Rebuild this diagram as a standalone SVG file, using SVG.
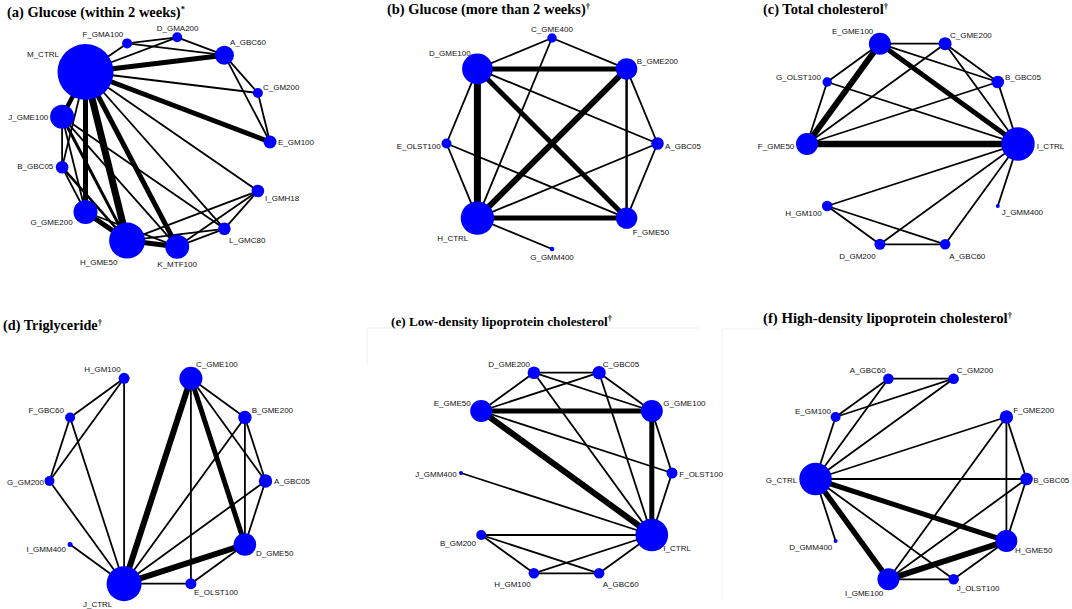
<svg xmlns="http://www.w3.org/2000/svg" width="1072" height="609" viewBox="0 0 1072 609">
<style>
.bg{fill:#ffffff}
.title{font-family:"Liberation Serif","Times New Roman",serif;font-weight:bold;font-size:14.5px;fill:#000}
.sup{font-size:8.5px}
.lb{font-family:"Liberation Sans",Arial,sans-serif;font-size:8px;fill:#111}
.m{text-anchor:middle}
.n{fill:#0000ff}
.c line{stroke:#000;stroke-width:1.8;stroke-linecap:butt}
.faint{stroke:#efefef;stroke-width:1;fill:none}
</style>
<rect class="bg" x="0" y="0" width="1072" height="609"/>
<g id="frames">
<polyline class="faint" points="367,365 367,328 700,328"/>
<polyline class="faint" points="783,329 722,329 722,600"/>
</g>
<g id="titles">
<text class="title" x="7" y="16.5" style="font-size:14.3px" textLength="178" lengthAdjust="spacingAndGlyphs">(a) Glucose (within 2 weeks)<tspan class="sup" dy="-5">*</tspan></text>
<text class="title" x="387" y="14" textLength="203" lengthAdjust="spacingAndGlyphs">(b) Glucose (more than 2 weeks)<tspan class="sup" dy="-5">†</tspan></text>
<text class="title" x="763" y="13.5" style="font-size:14.2px" textLength="125" lengthAdjust="spacingAndGlyphs">(c) Total cholesterol<tspan class="sup" dy="-5">†</tspan></text>
<text class="title" x="3" y="329.5" style="font-size:14px" textLength="99" lengthAdjust="spacingAndGlyphs">(d) Triglyceride<tspan class="sup" dy="-5">†</tspan></text>
<text class="title" x="391" y="326" style="font-size:13.2px" textLength="221" lengthAdjust="spacingAndGlyphs">(e) Low-density lipoprotein cholesterol<tspan class="sup" dy="-5">†</tspan></text>
<text class="title" x="763" y="322.5" style="font-size:14.7px" textLength="249" lengthAdjust="spacingAndGlyphs">(f) High-density lipoprotein cholesterol<tspan class="sup" dy="-5">†</tspan></text>
</g>

<g id="connectors-a" class="c">
<line x1="85.5" y1="72" x2="127.1" y2="43.4"/>
<line x1="85.5" y1="72" x2="177.2" y2="37.3"/>
<line x1="85.5" y1="72" x2="224.4" y2="55.2" style="stroke-width:5"/>
<line x1="85.5" y1="72" x2="257.9" y2="93"/>
<line x1="85.5" y1="72" x2="270" y2="142" style="stroke-width:5"/>
<line x1="85.5" y1="72" x2="257.9" y2="191"/>
<line x1="85.5" y1="72" x2="224.4" y2="228.8"/>
<line x1="85.5" y1="72" x2="177.2" y2="246.7" style="stroke-width:5"/>
<line x1="85.5" y1="72" x2="127.1" y2="240.6" style="stroke-width:7"/>
<line x1="85.5" y1="72" x2="85.5" y2="212" style="stroke-width:5"/>
<line x1="85.5" y1="72" x2="62.1" y2="167.2"/>
<line x1="85.5" y1="72" x2="62.1" y2="116.8" style="stroke-width:4.5"/>
<line x1="127.1" y1="43.4" x2="177.2" y2="37.3"/>
<line x1="127.1" y1="43.4" x2="224.4" y2="55.2"/>
<line x1="177.2" y1="37.3" x2="224.4" y2="55.2"/>
<line x1="224.4" y1="55.2" x2="257.9" y2="93"/>
<line x1="224.4" y1="55.2" x2="270" y2="142"/>
<line x1="257.9" y1="93" x2="270" y2="142"/>
<line x1="62.1" y1="116.8" x2="62.1" y2="167.2"/>
<line x1="62.1" y1="116.8" x2="85.5" y2="212"/>
<line x1="62.1" y1="116.8" x2="127.1" y2="240.6" style="stroke-width:3"/>
<line x1="62.1" y1="116.8" x2="177.2" y2="246.7"/>
<line x1="62.1" y1="116.8" x2="224.4" y2="228.8"/>
<line x1="62.1" y1="167.2" x2="85.5" y2="212"/>
<line x1="62.1" y1="167.2" x2="127.1" y2="240.6" style="stroke-width:2.5"/>
<line x1="85.5" y1="212" x2="127.1" y2="240.6" style="stroke-width:5"/>
<line x1="85.5" y1="212" x2="177.2" y2="246.7"/>
<line x1="127.1" y1="240.6" x2="177.2" y2="246.7" style="stroke-width:5"/>
<line x1="127.1" y1="240.6" x2="257.9" y2="191"/>
<line x1="127.1" y1="240.6" x2="224.4" y2="228.8"/>
<line x1="177.2" y1="246.7" x2="257.9" y2="191"/>
<line x1="177.2" y1="246.7" x2="224.4" y2="228.8"/>
<line x1="224.4" y1="228.8" x2="257.9" y2="191"/>
</g>

<g id="connectors-b" class="c">
<line x1="477.4" y1="68.9" x2="552" y2="38"/>
<line x1="552" y1="38" x2="626.6" y2="68.9"/>
<line x1="552" y1="38" x2="477.4" y2="218.1"/>
<line x1="477.4" y1="68.9" x2="626.6" y2="68.9" style="stroke-width:5"/>
<line x1="477.4" y1="68.9" x2="477.4" y2="218.1" style="stroke-width:7"/>
<line x1="477.4" y1="68.9" x2="626.6" y2="218.1" style="stroke-width:5"/>
<line x1="477.4" y1="68.9" x2="657.5" y2="143.5"/>
<line x1="477.4" y1="68.9" x2="446.5" y2="143.5"/>
<line x1="626.6" y1="68.9" x2="477.4" y2="218.1" style="stroke-width:6"/>
<line x1="626.6" y1="68.9" x2="626.6" y2="218.1" style="stroke-width:2.5"/>
<line x1="626.6" y1="68.9" x2="657.5" y2="143.5"/>
<line x1="446.5" y1="143.5" x2="477.4" y2="218.1"/>
<line x1="446.5" y1="143.5" x2="626.6" y2="218.1"/>
<line x1="657.5" y1="143.5" x2="477.4" y2="218.1"/>
<line x1="657.5" y1="143.5" x2="626.6" y2="218.1"/>
<line x1="477.4" y1="218.1" x2="626.6" y2="218.1" style="stroke-width:5"/>
<line x1="477.4" y1="218.1" x2="552" y2="249"/>
</g>

<g id="connectors-c" class="c">
<line x1="879.9" y1="43.7" x2="945.1" y2="43.7"/>
<line x1="879.9" y1="43.7" x2="827.2" y2="82"/>
<line x1="879.9" y1="43.7" x2="807" y2="144" style="stroke-width:6"/>
<line x1="879.9" y1="43.7" x2="997.8" y2="82"/>
<line x1="879.9" y1="43.7" x2="1018" y2="144" style="stroke-width:5"/>
<line x1="945.1" y1="43.7" x2="807" y2="144"/>
<line x1="945.1" y1="43.7" x2="997.8" y2="82"/>
<line x1="945.1" y1="43.7" x2="1018" y2="144"/>
<line x1="827.2" y1="82" x2="807" y2="144"/>
<line x1="827.2" y1="82" x2="1018" y2="144"/>
<line x1="997.8" y1="82" x2="807" y2="144"/>
<line x1="997.8" y1="82" x2="1018" y2="144"/>
<line x1="807" y1="144" x2="1018" y2="144" style="stroke-width:6.5"/>
<line x1="1018" y1="144" x2="827.2" y2="206"/>
<line x1="1018" y1="144" x2="879.9" y2="244.3"/>
<line x1="1018" y1="144" x2="945.1" y2="244.3"/>
<line x1="1018" y1="144" x2="997.8" y2="206"/>
<line x1="827.2" y1="206" x2="879.9" y2="244.3"/>
<line x1="827.2" y1="206" x2="945.1" y2="244.3"/>
<line x1="879.9" y1="244.3" x2="945.1" y2="244.3"/>
</g>

<g id="connectors-d" class="c">
<line x1="124.1" y1="378.3" x2="70.1" y2="417.5"/>
<line x1="124.1" y1="378.3" x2="49.5" y2="481"/>
<line x1="124.1" y1="378.3" x2="124.1" y2="583.7"/>
<line x1="70.1" y1="417.5" x2="49.5" y2="481"/>
<line x1="70.1" y1="417.5" x2="124.1" y2="583.7"/>
<line x1="49.5" y1="481" x2="124.1" y2="583.7"/>
<line x1="70.1" y1="544.5" x2="124.1" y2="583.7"/>
<line x1="190.9" y1="378.3" x2="124.1" y2="583.7" style="stroke-width:6"/>
<line x1="190.9" y1="378.3" x2="190.9" y2="583.7"/>
<line x1="190.9" y1="378.3" x2="244.9" y2="544.5" style="stroke-width:5"/>
<line x1="190.9" y1="378.3" x2="244.9" y2="417.5"/>
<line x1="190.9" y1="378.3" x2="265.5" y2="481"/>
<line x1="244.9" y1="417.5" x2="124.1" y2="583.7"/>
<line x1="244.9" y1="417.5" x2="244.9" y2="544.5"/>
<line x1="244.9" y1="417.5" x2="265.5" y2="481"/>
<line x1="265.5" y1="481" x2="124.1" y2="583.7"/>
<line x1="265.5" y1="481" x2="244.9" y2="544.5"/>
<line x1="244.9" y1="544.5" x2="124.1" y2="583.7" style="stroke-width:6"/>
<line x1="244.9" y1="544.5" x2="190.9" y2="583.7"/>
<line x1="190.9" y1="583.7" x2="124.1" y2="583.7"/>
</g>

<g id="connectors-e" class="c">
<line x1="533.9" y1="372.7" x2="599.1" y2="372.7"/>
<line x1="533.9" y1="372.7" x2="481.2" y2="411"/>
<line x1="533.9" y1="372.7" x2="651.8" y2="411"/>
<line x1="533.9" y1="372.7" x2="651.8" y2="535"/>
<line x1="599.1" y1="372.7" x2="481.2" y2="411"/>
<line x1="599.1" y1="372.7" x2="651.8" y2="411"/>
<line x1="599.1" y1="372.7" x2="651.8" y2="535"/>
<line x1="481.2" y1="411" x2="651.8" y2="411" style="stroke-width:5"/>
<line x1="481.2" y1="411" x2="651.8" y2="535" style="stroke-width:6"/>
<line x1="481.2" y1="411" x2="672" y2="473"/>
<line x1="651.8" y1="411" x2="672" y2="473"/>
<line x1="651.8" y1="411" x2="651.8" y2="535" style="stroke-width:5"/>
<line x1="672" y1="473" x2="651.8" y2="535"/>
<line x1="461" y1="473" x2="651.8" y2="535"/>
<line x1="481.2" y1="535" x2="651.8" y2="535"/>
<line x1="481.2" y1="535" x2="533.9" y2="573.3"/>
<line x1="481.2" y1="535" x2="599.1" y2="573.3"/>
<line x1="533.9" y1="573.3" x2="599.1" y2="573.3"/>
<line x1="533.9" y1="573.3" x2="651.8" y2="535"/>
<line x1="599.1" y1="573.3" x2="651.8" y2="535"/>
</g>

<g id="connectors-f" class="c">
<line x1="888.4" y1="378.7" x2="953.6" y2="378.7"/>
<line x1="888.4" y1="378.7" x2="835.6" y2="417"/>
<line x1="888.4" y1="378.7" x2="815.5" y2="479"/>
<line x1="953.6" y1="378.7" x2="835.6" y2="417"/>
<line x1="953.6" y1="378.7" x2="815.5" y2="479"/>
<line x1="835.6" y1="417" x2="815.5" y2="479"/>
<line x1="1006.4" y1="417" x2="815.5" y2="479"/>
<line x1="1006.4" y1="417" x2="888.4" y2="579.3"/>
<line x1="1006.4" y1="417" x2="1006.4" y2="541"/>
<line x1="1006.4" y1="417" x2="1026.5" y2="479"/>
<line x1="815.5" y1="479" x2="1026.5" y2="479"/>
<line x1="815.5" y1="479" x2="1006.4" y2="541" style="stroke-width:5"/>
<line x1="815.5" y1="479" x2="888.4" y2="579.3" style="stroke-width:5.5"/>
<line x1="815.5" y1="479" x2="953.6" y2="579.3"/>
<line x1="815.5" y1="479" x2="835.6" y2="541"/>
<line x1="1026.5" y1="479" x2="1006.4" y2="541"/>
<line x1="1026.5" y1="479" x2="888.4" y2="579.3"/>
<line x1="1006.4" y1="541" x2="888.4" y2="579.3" style="stroke-width:6"/>
<line x1="1006.4" y1="541" x2="953.6" y2="579.3"/>
<line x1="888.4" y1="579.3" x2="953.6" y2="579.3"/>
</g>

<g id="a-E_GM100"><circle class="n" cx="270" cy="142" r="6.5"/><text class="lb" x="278" y="145.2">E_GM100</text></g>
<g id="a-C_GM200"><circle class="n" cx="257.9" cy="93" r="5"/><text class="lb" x="263" y="90.2">C_GM200</text></g>
<g id="a-A_GBC60"><circle class="n" cx="224.4" cy="55.2" r="9.5"/><text class="lb" x="230" y="45.2">A_GBC60</text></g>
<g id="a-D_GMA200"><circle class="n" cx="177.2" cy="37.3" r="5"/><text class="lb" x="156.7" y="31.2">D_GMA200</text></g>
<g id="a-F_GMA100"><circle class="n" cx="127.1" cy="43.4" r="5"/><text class="lb" x="123.3" y="37.2" text-anchor="end">F_GMA100</text></g>
<g id="a-M_CTRL"><circle class="n" cx="85.5" cy="72" r="28"/><text class="lb" x="59" y="57.3" text-anchor="end">M_CTRL</text></g>
<g id="a-J_GME100"><circle class="n" cx="62.1" cy="116.8" r="12"/><text class="lb" x="48.3" y="120.2" text-anchor="end">J_GME100</text></g>
<g id="a-B_GBC05"><circle class="n" cx="62.1" cy="167.2" r="6.3"/><text class="lb" x="53.3" y="168.6" text-anchor="end">B_GBC05</text></g>
<g id="a-G_GME200"><circle class="n" cx="85.5" cy="212" r="12"/><text class="lb" x="72.7" y="225.2" text-anchor="end">G_GME200</text></g>
<g id="a-H_GME50"><circle class="n" cx="127.1" cy="240.6" r="18"/><text class="lb" x="80" y="265.2">H_GME50</text></g>
<g id="a-K_MTF100"><circle class="n" cx="177.2" cy="246.7" r="12"/><text class="lb" x="157.3" y="267.2">K_MTF100</text></g>
<g id="a-L_GMC80"><circle class="n" cx="224.4" cy="228.8" r="6.3"/><text class="lb" x="229" y="243">L_GMC80</text></g>
<g id="a-I_GMH18"><circle class="n" cx="257.9" cy="191" r="6.3"/><text class="lb" x="265" y="201.2">I_GMH18</text></g>

<g id="b-C_GME400"><circle class="n" cx="552" cy="38" r="4.7"/><text class="lb m" x="552" y="32.2">C_GME400</text></g>
<g id="b-B_GME200"><circle class="n" cx="626.6" cy="68.9" r="10.7"/><text class="lb" x="636.7" y="63.9">B_GME200</text></g>
<g id="b-A_GBC05"><circle class="n" cx="657.5" cy="143.5" r="6.3"/><text class="lb" x="665" y="148.6">A_GBC05</text></g>
<g id="b-F_GME50"><circle class="n" cx="626.6" cy="218.1" r="10.7"/><text class="lb" x="632.7" y="235.2">F_GME50</text></g>
<g id="b-G_GMM400"><circle class="n" cx="552" cy="249" r="2.3"/><text class="lb m" x="552" y="260.2">G_GMM400</text></g>
<g id="b-H_CTRL"><circle class="n" cx="477.4" cy="218.1" r="16.7"/><text class="lb" x="468.3" y="241.2" text-anchor="end">H_CTRL</text></g>
<g id="b-E_OLST100"><circle class="n" cx="446.5" cy="143.5" r="5"/><text class="lb" x="440.7" y="148.6" text-anchor="end">E_OLST100</text></g>
<g id="b-D_GME100"><circle class="n" cx="477.4" cy="68.9" r="15.3"/><text class="lb" x="470.7" y="55.6" text-anchor="end">D_GME100</text></g>

<g id="c-I_CTRL"><circle class="n" cx="1018" cy="144" r="16.7"/><text class="lb" x="1036.7" y="148.6">I_CTRL</text></g>
<g id="c-B_GBC05"><circle class="n" cx="997.8" cy="82" r="6.3"/><text class="lb" x="1005" y="79.6">B_GBC05</text></g>
<g id="c-C_GME200"><circle class="n" cx="945.1" cy="43.7" r="6.5"/><text class="lb" x="950" y="37.9">C_GME200</text></g>
<g id="c-E_GME100"><circle class="n" cx="879.9" cy="43.7" r="11"/><text class="lb" x="873.3" y="33.9" text-anchor="end">E_GME100</text></g>
<g id="c-G_OLST100"><circle class="n" cx="827.2" cy="82" r="4.7"/><text class="lb" x="821" y="80.2" text-anchor="end">G_OLST100</text></g>
<g id="c-F_GME50"><circle class="n" cx="807" cy="144" r="11"/><text class="lb" x="794.3" y="148.6" text-anchor="end">F_GME50</text></g>
<g id="c-H_GM100"><circle class="n" cx="827.2" cy="206" r="5.3"/><text class="lb" x="821.7" y="215.6" text-anchor="end">H_GM100</text></g>
<g id="c-D_GM200"><circle class="n" cx="879.9" cy="244.3" r="5.5"/><text class="lb" x="875.7" y="258.6" text-anchor="end">D_GM200</text></g>
<g id="c-A_GBC60"><circle class="n" cx="945.1" cy="244.3" r="5.3"/><text class="lb" x="949.3" y="258.6">A_GBC60</text></g>
<g id="c-J_GMM400"><circle class="n" cx="997.8" cy="206" r="2"/><text class="lb" x="1001.7" y="215.2">J_GMM400</text></g>

<g id="d-A_GBC05"><circle class="n" cx="265.5" cy="481" r="6.7"/><text class="lb" x="274" y="483.6">A_GBC05</text></g>
<g id="d-B_GME200"><circle class="n" cx="244.9" cy="417.5" r="6.7"/><text class="lb" x="251.7" y="412.9">B_GME200</text></g>
<g id="d-C_GME100"><circle class="n" cx="190.9" cy="378.3" r="11.5"/><text class="lb" x="196" y="366.9">C_GME100</text></g>
<g id="d-H_GM100"><circle class="n" cx="124.1" cy="378.3" r="5.5"/><text class="lb" x="120.7" y="372.2" text-anchor="end">H_GM100</text></g>
<g id="d-F_GBC60"><circle class="n" cx="70.1" cy="417.5" r="5"/><text class="lb" x="64" y="412.9" text-anchor="end">F_GBC60</text></g>
<g id="d-G_GM200"><circle class="n" cx="49.5" cy="481" r="5"/><text class="lb" x="44" y="484.6" text-anchor="end">G_GM200</text></g>
<g id="d-I_GMM400"><circle class="n" cx="70.1" cy="544.5" r="2.5"/><text class="lb" x="66" y="552.2" text-anchor="end">I_GMM400</text></g>
<g id="d-J_CTRL"><circle class="n" cx="124.1" cy="583.7" r="17.5"/><text class="lb" x="112.3" y="606.9" text-anchor="end">J_CTRL</text></g>
<g id="d-E_OLST100"><circle class="n" cx="190.9" cy="583.7" r="5.5"/><text class="lb" x="194" y="595.2">E_OLST100</text></g>
<g id="d-D_GME50"><circle class="n" cx="244.9" cy="544.5" r="11.3"/><text class="lb" x="256" y="556.2">D_GME50</text></g>

<g id="e-F_OLST100"><circle class="n" cx="672" cy="473" r="5.5"/><text class="lb" x="679.3" y="477.2">F_OLST100</text></g>
<g id="e-G_GME100"><circle class="n" cx="651.8" cy="411" r="11"/><text class="lb" x="663.3" y="405.6">G_GME100</text></g>
<g id="e-C_GBC05"><circle class="n" cx="599.1" cy="372.7" r="6.7"/><text class="lb" x="602.7" y="366.9">C_GBC05</text></g>
<g id="e-D_GME200"><circle class="n" cx="533.9" cy="372.7" r="6.3"/><text class="lb" x="530" y="366.9" text-anchor="end">D_GME200</text></g>
<g id="e-E_GME50"><circle class="n" cx="481.2" cy="411" r="11"/><text class="lb" x="470.7" y="405.6" text-anchor="end">E_GME50</text></g>
<g id="e-J_GMM400"><circle class="n" cx="461" cy="473" r="2"/><text class="lb" x="456.7" y="477.2" text-anchor="end">J_GMM400</text></g>
<g id="e-B_GM200"><circle class="n" cx="481.2" cy="535" r="5"/><text class="lb" x="476" y="545.6" text-anchor="end">B_GM200</text></g>
<g id="e-H_GM100"><circle class="n" cx="533.9" cy="573.3" r="5.3"/><text class="lb" x="530.7" y="586.9" text-anchor="end">H_GM100</text></g>
<g id="e-A_GBC60"><circle class="n" cx="599.1" cy="573.3" r="5.3"/><text class="lb" x="602.7" y="586.9">A_GBC60</text></g>
<g id="e-I_CTRL"><circle class="n" cx="651.8" cy="535" r="16.3"/><text class="lb" x="663.3" y="551.2">I_CTRL</text></g>

<g id="f-B_GBC05"><circle class="n" cx="1026.5" cy="479" r="6.3"/><text class="lb" x="1033.3" y="482.9">B_GBC05</text></g>
<g id="f-F_GME200"><circle class="n" cx="1006.4" cy="417" r="6.7"/><text class="lb" x="1013.3" y="412.9">F_GME200</text></g>
<g id="f-C_GM200"><circle class="n" cx="953.6" cy="378.7" r="5.3"/><text class="lb" x="956.7" y="372.9">C_GM200</text></g>
<g id="f-A_GBC60"><circle class="n" cx="888.4" cy="378.7" r="5.3"/><text class="lb" x="885.7" y="372.9" text-anchor="end">A_GBC60</text></g>
<g id="f-E_GM100"><circle class="n" cx="835.6" cy="417" r="5"/><text class="lb" x="831" y="413.9" text-anchor="end">E_GM100</text></g>
<g id="f-G_CTRL"><circle class="n" cx="815.5" cy="479" r="16.2"/><text class="lb" x="797.3" y="482.9" text-anchor="end">G_CTRL</text></g>
<g id="f-D_GMM400"><circle class="n" cx="835.6" cy="541" r="2"/><text class="lb" x="832.3" y="549.6" text-anchor="end">D_GMM400</text></g>
<g id="f-I_GME100"><circle class="n" cx="888.4" cy="579.3" r="11"/><text class="lb" x="883.3" y="596.2" text-anchor="end">I_GME100</text></g>
<g id="f-J_OLST100"><circle class="n" cx="953.6" cy="579.3" r="5.3"/><text class="lb" x="956.7" y="591.2">J_OLST100</text></g>
<g id="f-H_GME50"><circle class="n" cx="1006.4" cy="541" r="11"/><text class="lb" x="1015" y="552.9">H_GME50</text></g>
</svg>
